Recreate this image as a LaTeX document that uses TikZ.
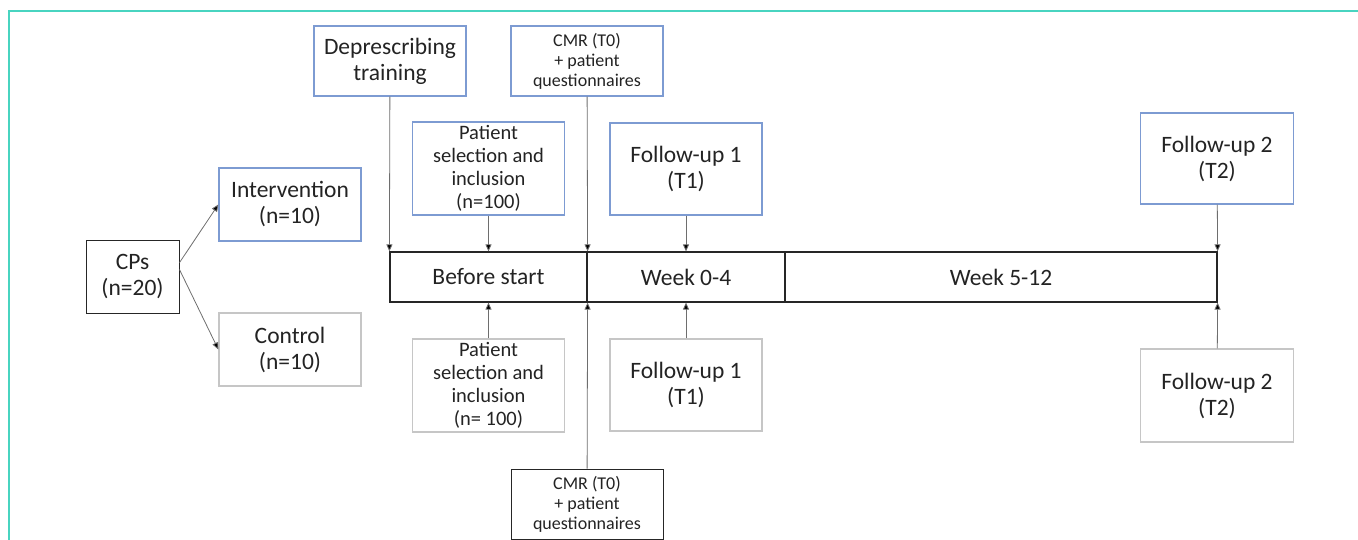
\documentclass[tikz,border=0pt]{standalone}
\usepackage{fontspec}
\setmainfont{Carlito}
\usetikzlibrary{arrows.meta}

\definecolor{frameteal}{RGB}{72,212,192}
\definecolor{boxblue}{RGB}{125,155,210}
\definecolor{boxgrey}{RGB}{198,198,198}
\definecolor{linegrey}{RGB}{110,110,110}
\definecolor{textdark}{RGB}{35,35,35}

\begin{document}
\begin{tikzpicture}[
    x = 1pt, y = -1pt,
    every node/.style = {align = center, inner sep = 0pt, text = textdark},
    big/.style = {font = \fontsize{23.5}{26}\selectfont},
    mid/.style = {font = \fontsize{20.5}{23}\selectfont},
    small/.style = {font = \fontsize{18}{20}\selectfont},
    upper box/.style = {draw = boxblue, line width = 1.3pt},
    lower box/.style = {draw = boxgrey, line width = 1.3pt},
    plain box/.style = {draw = black!85, line width = 1pt},
    period/.style = {draw = black!85, line width = 1.2pt, minimum height = 50pt, big},
    tick/.style = {draw = linegrey, line width = 0.8pt,
                   -{Triangle[length = 7pt, width = 6pt, fill = black]}},
  ]
  \useasboundingbox (0,0) rectangle (1358,540);
  \draw [frameteal, line width = 1.6pt] (9,540) -- (9,11) -- (1358,11);

  % time line
  \node [period, minimum width = 197pt] (before)  at (488.5,277) {Before start};
  \node [period, minimum width = 198pt] (week04)  at (686,277)   {Week 0-4};
  \node [period, minimum width = 432pt] (week512) at (1001,277)  {Week 5-12};

  % above the time line
  \node [upper box, big, minimum width = 152pt, minimum height = 70pt]
        (training) at (390,61) {Deprescribing\\training};
  \node [upper box, small, minimum width = 152pt, minimum height = 70pt]
        (cmr top) at (587,61) {CMR (T0)\\+ patient\\questionnaires};
  \node [upper box, mid, minimum width = 152pt, minimum height = 93pt]
        (selection top) at (488.5,168.5) {Patient\\selection and\\inclusion\\(n=100)};
  \node [upper box, big, minimum width = 152pt, minimum height = 92pt]
        (followup1 top) at (686,169) {Follow-up 1\\(T1)};
  \node [upper box, big, minimum width = 153pt, minimum height = 91pt]
        (followup2 top) at (1217,158.5) {Follow-up 2\\(T2)};

  % below the time line
  \node [lower box, mid, minimum width = 152pt, minimum height = 93pt]
        (selection bottom) at (488.5,385.5) {Patient\\selection and\\inclusion\\(n= 100)};
  \node [lower box, big, minimum width = 152pt, minimum height = 92pt]
        (followup1 bottom) at (686,385) {Follow-up 1\\(T1)};
  \node [plain box, small, minimum width = 152pt, minimum height = 70pt]
        (cmr bottom) at (587,504) {CMR (T0)\\+ patient\\questionnaires};
  \node [lower box, big, minimum width = 153pt, minimum height = 93pt]
        (followup2 bottom) at (1217,395.5) {Follow-up 2\\(T2)};

  % groups
  \node [plain box, big, minimum width = 93pt, minimum height = 72pt]
        (cps) at (132.5,277) {CPs\\(n=20)};
  \node [upper box, big, minimum width = 142pt, minimum height = 73pt]
        (intervention) at (290,204.5) {Intervention\\(n=10)};
  \node [lower box, big, minimum width = 142pt, minimum height = 73pt]
        (control) at (290,349.5) {Control\\(n=10)};

  \draw [tick] (cps.17) -- (intervention.west);
  \draw [tick] (cps.9)  -- (control.west);

  \draw [tick] (training)      -- (before.north west);
  \draw [tick] (selection top) -- (before.north);
  \draw [tick] (cmr top)       -- (before.north east);
  \draw [tick] (followup1 top) -- (week04.north);
  \draw [tick] (followup2 top) -- (week512.north east);

  \draw [tick] (selection bottom) -- (before.south);
  \draw [tick] (cmr bottom)       -- (before.south east);
  \draw [tick] (followup1 bottom) -- (week04.south);
  \draw [tick] (followup2 bottom) -- (week512.south east);
\end{tikzpicture}
\end{document}
